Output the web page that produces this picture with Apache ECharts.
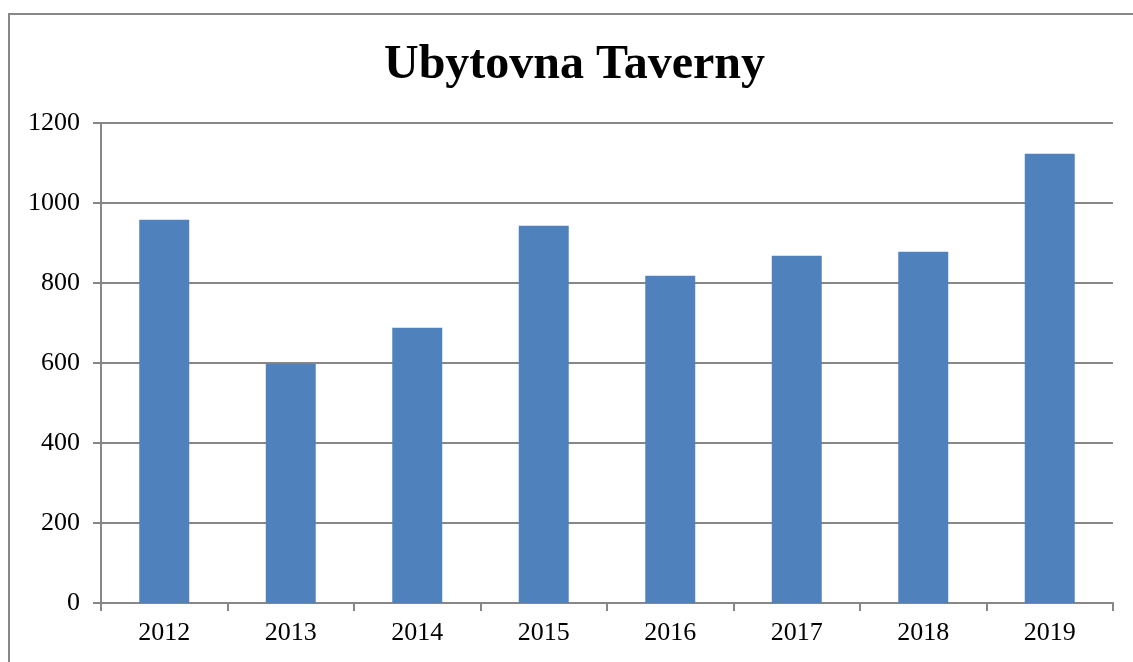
<!DOCTYPE html>
<html>
<head>
<meta charset="utf-8">
<script src="https://cdn.jsdelivr.net/npm/echarts@6/dist/echarts.min.js"></script>
<style>
  html, body { margin: 0; padding: 0; background: #fff; }
  #chart { width: 1133px; height: 662px; }
</style>
</head>
<body>
<div id="chart"></div>
<script>
const years = ['2012', '2013', '2014', '2015', '2016', '2017', '2018', '2019'];
const guests = [958, 598, 688, 943, 818, 868, 878, 1123];
const yTicks = [0, 200, 400, 600, 800, 1000, 1200];

const chart = echarts.init(document.getElementById('chart'));
const serif = '"Liberation Serif", "Times New Roman", serif';

chart.setOption({
  backgroundColor: '#fff',
  animation: false,
  title: {
    text: 'Ubytovna Taverny',
    left: 379,
    top: 37,
    textStyle: { fontFamily: serif, fontWeight: 'bold', fontSize: 48, color: '#000' }
  },
  graphic: [{
    type: 'rect',
    shape: { x: 9, y: 14, width: 1140, height: 670 },
    style: { fill: 'none', stroke: '#878787', lineWidth: 2 },
    silent: true
  }],
  grid: { left: 101, right: 20, top: 123, bottom: 59 },
  xAxis: {
    type: 'category',
    data: years,
    axisLine: { lineStyle: { color: '#878787', width: 2 } },
    axisTick: { show: true, length: 8, lineStyle: { color: '#878787', width: 2 } },
    axisLabel: { fontFamily: serif, fontSize: 26, color: '#000', margin: 17 }
  },
  yAxis: {
    type: 'value',
    min: yTicks[0],
    max: yTicks[yTicks.length - 1],
    interval: 200,
    axisLine: { show: true, lineStyle: { color: '#878787', width: 2 } },
    axisTick: { show: true, length: 8, lineStyle: { color: '#878787', width: 2 } },
    axisLabel: { fontFamily: serif, fontSize: 26, color: '#000', margin: 21, formatter: v => String(v) },
    splitLine: { lineStyle: { color: '#878787', width: 2 } }
  },
  series: [{
    type: 'bar',
    data: guests,
    barWidth: '39.5%',
    itemStyle: { color: '#4F81BD' }
  }]
});
</script>
</body>
</html>
